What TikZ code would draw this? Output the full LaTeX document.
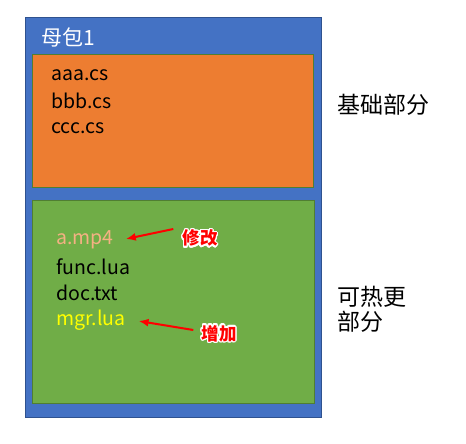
\documentclass[tikz,border=0pt]{standalone}
\usepackage{fontspec}
\setmainfont{Noto Sans CJK SC}
\usepackage{contour}
\contourlength{1.3pt}
\contournumber{24}
\usetikzlibrary{arrows.meta}
\definecolor{pblue}{HTML}{4472C4}
\definecolor{pblueb}{HTML}{2F528F}
\definecolor{porange}{HTML}{ED7D31}
\definecolor{pgreen}{HTML}{70AD47}
\definecolor{pgreenb}{HTML}{507E32}
\definecolor{pmp}{HTML}{F4B183}
\definecolor{pyellow}{HTML}{FFFF00}
\definecolor{pred}{HTML}{FF0000}
\tikzset{
  file/.style={anchor=west, inner sep=0pt, font=\fontsize{19.5}{22}\selectfont},
  side/.style={anchor=west, inner sep=0pt, align=left, font=\fontsize{23}{25}\selectfont},
  note/.style={inner sep=0pt, text=pred, font=\fontsize{17.5}{20}\selectfont\bfseries},
  redarrow/.style={draw=pred, line width=2pt, -{Latex[length=10pt,width=8pt]}},
}
\begin{document}
\begin{tikzpicture}[x=1pt,y=-1pt]
\useasboundingbox (0,0) rectangle (466,444);
\draw[pblueb, fill=pblue, line width=0.8pt] (25,17) rectangle (321,417);
\node[anchor=west, inner sep=0pt, text=white, font=\fontsize{21}{24}\selectfont] (title) at (41,37) {母包1};
\draw[pgreenb, fill=porange, line width=0.8pt] (32,54) rectangle (313,187);
\draw[pgreenb, fill=pgreen, line width=0.8pt] (32,200) rectangle (314,403);
\node[file] (f1) at (51,75) {aaa.cs};
\node[file] (f2) at (51,101) {bbb.cs};
\node[file] (f3) at (51,128) {ccc.cs};
\node[file, text=pmp] (g1) at (56,240) {a.mp4};
\node[file] (g2) at (56,267) {func.lua};
\node[file] (g3) at (56,293) {doc.txt};
\node[file, text=pyellow] (g4) at (56,320) {mgr.lua};
\node[side] (s1) at (337,105) {基础部分};
\node[side] (s2) at (337,309) {可热更\\部分};
\node[note] (n1) at (200,239) {\contour{white}{修改}};
\node[note] (n2) at (219,334) {\contour{white}{增加}};
\draw[redarrow] ([shift={(-9pt,10pt)}]n1.west) -- ([shift={(12pt,1pt)}]g1.east);
\draw[redarrow] ([shift={(-8pt,4pt)}]n2.west) -- ([shift={(13pt,-1pt)}]g4.east);
\end{tikzpicture}
\end{document}
